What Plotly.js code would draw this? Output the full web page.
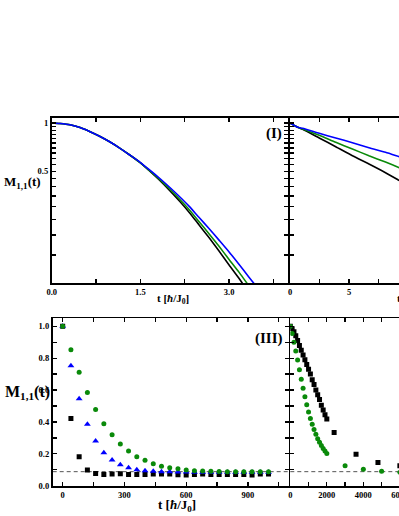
<!DOCTYPE html>
<html><head><meta charset="utf-8">
<script src="https://cdn.plot.ly/plotly-3.0.1.min.js"></script>
<style>
html,body{margin:0;padding:0;overflow:hidden;background:#fff}
#wrap{width:399px;height:516px;overflow:hidden;position:relative}
#chart{width:540px;height:516px}
</style></head>
<body><div id="wrap"><div id="chart"></div></div>
<script>
// ---------- Panel (I): short times, log scale ----------
const tI = [0, 0.14, 0.31, 0.48, 0.64, 0.81, 0.98, 1.15, 1.32, 1.49, 1.65, 1.82, 1.99, 2.16, 2.33, 2.49, 2.66, 2.83, 3.0, 3.17, 3.33, 3.5, 3.67];
const mI_black = [1.0,0.993,0.975,0.938,0.887,0.828,0.764,0.698,0.632,0.568,0.504,0.441,0.381,0.326,0.276,0.232,0.193,0.159,0.130,0.107,0.088,0.072,0.059];
const mI_green = [1.0,0.993,0.975,0.938,0.887,0.828,0.764,0.698,0.632,0.569,0.507,0.447,0.389,0.336,0.287,0.243,0.204,0.170,0.141,0.117,0.097,0.081,0.067];
const mI_blue  = [1.0,0.993,0.975,0.938,0.887,0.828,0.764,0.698,0.632,0.571,0.512,0.454,0.399,0.348,0.301,0.258,0.220,0.186,0.157,0.131,0.110,0.092,0.077];

// ---------- Panel (II): longer times, log scale ----------
const tII = [0, 0.65, 1.07, 2.47, 3.87, 5.28, 6.68, 8.08, 9.26, 9.5];
const mII_blue  = [1.0, 0.941, 0.927, 0.863, 0.807, 0.754, 0.702, 0.657, 0.616, 0.608];
const mII_green = [1.0, 0.941, 0.918, 0.839, 0.758, 0.689, 0.625, 0.571, 0.526, 0.517];
const mII_black = [1.0, 0.941, 0.914, 0.807, 0.712, 0.625, 0.555, 0.490, 0.437, 0.427];

// ---------- Panel (III): markers, linear ----------
const tIII = [0,40,80,120,160,200,240,280,320,360,400,440,480,520,560,600,640,680,720,760,800,840,880,920,960,1000];
const mIII_black = [1.0,0.422,0.182,0.098,0.077,0.071,0.073,0.075,0.071,0.071,0.071,0.073,0.073,0.073,0.069,0.067,0.071,0.073,0.071,0.071,0.071,0.071,0.071,0.067,0.073,0.073];
const mIII_blue  = [1.0,0.752,0.545,0.386,0.280,0.207,0.161,0.132,0.113,0.100,0.094,0.090,0.088,0.087,0.086,0.086,0.085,0.085,0.085,0.085,0.085,0.085,0.085,0.085,0.085,0.085];
const mIII_green = [1.0,0.852,0.712,0.585,0.478,0.388,0.320,0.262,0.217,0.182,0.159,0.138,0.122,0.113,0.106,0.098,0.094,0.092,0.090,0.089,0.088,0.088,0.088,0.087,0.087,0.087];

// ---------- Panel (IV): markers, linear ----------
const tIV_black = [0,100,200,300,400,500,600,700,800,900,1000,1100,1200,1300,1400,1500,1600,1700,1800,1900,2000,2400,3600,4800,6000];
const mIV_black = [1.0,0.985,0.965,0.94,0.91,0.88,0.85,0.82,0.79,0.76,0.73,0.70,0.665,0.635,0.60,0.57,0.54,0.505,0.475,0.445,0.418,0.334,0.197,0.146,0.125];
const tIV_green = [0,100,200,300,400,500,600,700,800,900,1000,1100,1200,1300,1400,1500,1600,1700,1800,1900,2000,3000,4000,5000,6000];
const mIV_green = [1.0,0.955,0.90,0.845,0.788,0.728,0.668,0.612,0.558,0.508,0.463,0.421,0.385,0.352,0.322,0.295,0.272,0.252,0.234,0.218,0.202,0.125,0.103,0.090,0.084];

const satLevel = 0.088;

// ---------- tick labels ----------
const xI_tickvals = [0,0.75,1.5,2.25,3,3.75];
const xI_ticktext = ['0.0','','1.5','','3.0',''];
const yLog_tickvals = [1,0.95,0.9,0.85,0.8,0.75,0.7,0.65,0.6,0.55,0.5,0.45,0.4,0.35,0.3,0.25,0.2,0.15];
const yLog_ticktext = yLog_tickvals.map(v => v === 1 ? '1' : (v === 0.5 ? '0.5' : ''));
const xII_tickvals = [0,2.5,5,7.5,10,12.5,15,17.5];
const xII_ticktext = ['0','','5','','10','','15',''];
const yLin_tickvals = [0,0.1,0.2,0.3,0.4,0.5,0.6,0.7,0.8,0.9,1.0];
const yLin_ticktext = ['0.0','','0.2','','0.4','','0.6','','0.8','','1.0'];
const xIII_tickvals = [0,150,300,450,600,750,900,1050];
const xIII_ticktext = ['0','','300','','600','','900',''];
const xIV_tickvals = [0,1000,2000,3000,4000,5000,6000,7000,8000,9000,10000,11000,12000];
const xIV_ticktext = ['0','','2000','','4000','','6000','','8000','','10000','','12000'];

const W = 540, H = 516;
const fx = v => v / W, fy = v => 1 - v / H;
const SERIF = 'Liberation Serif';
const BLACK = '#000000', GREEN = '#0a8a0a', BLUE = '#0000ff';
const LW = 1.8;

function ax(extra) {
  return Object.assign({
    showline: true, linewidth: LW, linecolor: '#000', mirror: 'ticks',
    ticks: 'inside', ticklen: 4, tickwidth: 1.3, tickcolor: '#000',
    showgrid: false, zeroline: false, tickmode: 'array', fixedrange: true,
    tickfont: {family: SERIF, size: 8.5, color: '#000', weight: 'bold'}
  }, extra);
}

const line = (x, y, color, xa, ya) => ({x, y, xaxis: xa, yaxis: ya, type: 'scatter', mode: 'lines',
  line: {color, width: 1.6, shape: 'spline', smoothing: 0.5}, hoverinfo: 'skip'});
const pts = (x, y, color, sym, size, xa, ya) => ({x, y, xaxis: xa, yaxis: ya, type: 'scatter', mode: 'markers',
  marker: {color, symbol: sym, size, line: {width: 0}}, hoverinfo: 'skip'});

const data = [
  line(tI, mI_black, BLACK, 'x', 'y'),
  line(tI, mI_green, GREEN, 'x', 'y'),
  line(tI, mI_blue, BLUE, 'x', 'y'),
  line(tII, mII_black, BLACK, 'x2', 'y2'),
  line(tII, mII_green, GREEN, 'x2', 'y2'),
  line(tII, mII_blue, BLUE, 'x2', 'y2'),
  pts(tIII, mIII_black, BLACK, 'square', 5, 'x3', 'y3'),
  pts(tIII, mIII_blue, BLUE, 'triangle-up', 6, 'x3', 'y3'),
  pts(tIII, mIII_green, GREEN, 'circle', 5, 'x3', 'y3'),
  pts(tIV_black, mIV_black, BLACK, 'square', 5, 'x4', 'y4'),
  pts(tIV_green, mIV_green, GREEN, 'circle', 5, 'x4', 'y4')
];

const topY = [fy(283.3), fy(117.7)];
const botY = [fy(485.7), fy(318.3)];

const layout = {
  width: W, height: H, margin: {l: 0, r: 0, t: 0, b: 0, pad: 0},
  paper_bgcolor: '#fff', plot_bgcolor: '#fff', showlegend: false,
  xaxis: ax({domain: [fx(51.7), fx(288.2)], range: [0, 4], anchor: 'y', tickvals: xI_tickvals, ticktext: xI_ticktext}),
  yaxis: ax({domain: topY, type: 'log', range: [-1, 0.0334], anchor: 'x', tickvals: yLog_tickvals, ticktext: yLog_ticktext}),
  xaxis2: ax({domain: [fx(288.2 + LW), fx(526.4)], range: [0, 20], anchor: 'y2', tickvals: xII_tickvals, ticktext: xII_ticktext}),
  yaxis2: ax({domain: topY, type: 'log', range: [-1, 0.0334], anchor: 'x2', tickvals: yLog_tickvals, ticktext: yLog_ticktext, showticklabels: false}),
  xaxis3: ax({domain: [fx(52.7), fx(288.5)], range: [-48.5, 1097], anchor: 'y3', tickvals: xIII_tickvals, ticktext: xIII_ticktext}),
  yaxis3: ax({domain: botY, range: [0, 1.05], anchor: 'x3', tickvals: yLin_tickvals, ticktext: yLin_ticktext}),
  xaxis4: ax({domain: [fx(288.5 + LW), fx(527.7)], range: [0, 13000], anchor: 'y4', tickvals: xIV_tickvals, ticktext: xIV_ticktext}),
  yaxis4: ax({domain: botY, range: [0, 1.05], anchor: 'x4', tickvals: yLin_tickvals, ticktext: yLin_ticktext, showticklabels: false}),
  shapes: [
    {type: 'line', xref: 'x3 domain', yref: 'y3', x0: 0, x1: 1, y0: satLevel, y1: satLevel, line: {color: '#555', width: 1, dash: '4px,3px'}, layer: 'below'},
    {type: 'line', xref: 'x4 domain', yref: 'y4', x0: 0, x1: 1, y0: satLevel, y1: satLevel, line: {color: '#555', width: 1, dash: '4px,3px'}, layer: 'below'}
  ],
  annotations: []
};

function txt(text, x, y, size, xanchor) {
  layout.annotations.push({text, xref: 'paper', yref: 'paper', x: fx(x), y: fy(y), xanchor: xanchor || 'center', yanchor: 'middle',
    showarrow: false, font: {family: SERIF, size, color: '#000'}});
}
txt('<b>(I)</b>', 273.5, 133, 15);
txt('<b>(II)</b>', 505, 133, 15);
txt('<b>(III)</b>', 268.5, 338.5, 15);
txt('<b>(IV)</b>', 505, 338.5, 15);
txt('<b>M<sub>1,1</sub>(t)</b>', 1.5, 183, 13, 'left');
txt('<b>M<sub>1,1</sub>(t)</b>', 3, 392, 16, 'left');
txt('<b>t [<i>ħ</i>/J<sub>0</sub>]</b>', 173, 299, 11);
txt('<b>t [<i>ħ</i>/J<sub>0</sub>]</b>', 395, 299, 11, 'left');
txt('<b>t [<i>ħ</i>/J<sub>0</sub>]</b>', 177, 505, 13);
txt('<b>t [<i>ħ</i>/J<sub>0</sub>]</b>', 410, 505, 13, 'left');

Plotly.newPlot('chart', data, layout, {displayModeBar: false, staticPlot: true});
</script>
</body></html>
